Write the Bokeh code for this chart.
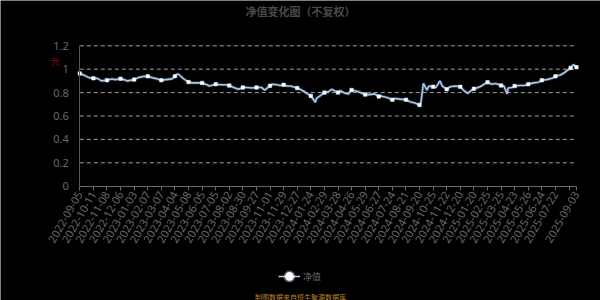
import numpy as np
from datetime import date
from bokeh.plotting import figure
from bokeh.models import FixedTicker, Label, Legend, LegendItem, Range1d, LinearAxis
from bokeh.embed import file_html
from bokeh.resources import INLINE

# ---- data ----
label_dates = ["2022-09-05", "2022-10-11", "2022-11-08", "2022-12-06", "2023-01-03",
               "2023-02-07", "2023-03-07", "2023-04-04", "2023-05-08", "2023-06-05",
               "2023-07-05", "2023-08-02", "2023-08-30", "2023-09-27", "2023-11-01",
               "2023-11-29", "2023-12-27", "2024-01-24", "2024-02-29", "2024-03-28",
               "2024-04-26", "2024-05-29", "2024-06-27", "2024-07-24", "2024-08-21",
               "2024-09-20", "2024-10-25", "2024-11-22", "2024-12-20", "2025-01-20",
               "2025-02-25", "2025-03-25", "2025-04-23", "2025-05-26", "2025-06-24",
               "2025-07-22", "2025-09-03"]
label_pos = list(range(36)) + [36.55]
hidden_ticks = [36]

nav_dates = ["2022-09-05", "2022-09-15", "2022-09-29", "2022-10-11", "2022-10-19",
             "2022-10-28", "2022-11-08", "2022-11-18", "2022-11-25", "2022-12-06",
             "2022-12-13", "2022-12-20", "2023-01-03", "2023-01-13", "2023-01-30",
             "2023-02-07", "2023-02-16", "2023-02-27", "2023-03-07", "2023-03-17",
             "2023-03-29", "2023-04-04", "2023-04-10", "2023-04-14", "2023-04-26",
             "2023-05-08", "2023-05-15", "2023-05-26", "2023-06-05", "2023-06-16",
             "2023-06-21", "2023-07-05", "2023-07-14", "2023-07-25", "2023-08-02",
             "2023-08-11", "2023-08-21", "2023-08-30", "2023-09-08", "2023-09-18",
             "2023-09-27", "2023-10-10", "2023-10-18", "2023-11-01", "2023-11-06",
             "2023-11-15", "2023-11-22", "2023-11-29", "2023-12-06", "2023-12-13",
             "2023-12-27", "2024-01-05", "2024-01-16", "2024-01-24", "2024-01-29",
             "2024-02-05", "2024-02-08", "2024-02-20", "2024-02-29", "2024-03-08",
             "2024-03-15", "2024-03-28", "2024-04-02", "2024-04-12", "2024-04-19",
             "2024-04-26", "2024-05-09", "2024-05-17", "2024-05-29", "2024-06-07",
             "2024-06-18", "2024-06-27", "2024-07-01", "2024-07-05", "2024-07-15",
             "2024-07-24", "2024-07-30", "2024-08-09", "2024-08-21", "2024-08-30",
             "2024-09-10", "2024-09-20", "2024-09-24", "2024-09-26", "2024-09-30",
             "2024-10-09", "2024-10-14", "2024-10-25", "2024-10-31", "2024-11-08",
             "2024-11-13", "2024-11-22", "2024-11-29", "2024-12-10", "2024-12-20",
             "2024-12-27", "2025-01-06", "2025-01-15", "2025-01-20", "2025-01-27",
             "2025-02-05", "2025-02-14", "2025-02-25", "2025-03-06", "2025-03-14",
             "2025-03-25", "2025-03-31", "2025-04-07", "2025-04-09", "2025-04-17",
             "2025-04-23", "2025-05-06", "2025-05-16", "2025-05-26", "2025-06-06",
             "2025-06-17", "2025-06-24", "2025-07-04", "2025-07-15", "2025-07-22",
             "2025-08-01", "2025-08-08", "2025-08-15", "2025-08-22", "2025-08-28",
             "2025-09-03"]
nav_values = [0.964, 0.950, 0.928, 0.922, 0.922,
              0.900, 0.906, 0.917, 0.911, 0.919,
              0.911, 0.900, 0.911, 0.928, 0.939,
              0.939, 0.928, 0.917, 0.906, 0.911,
              0.917, 0.940, 0.958, 0.955, 0.917,
              0.890, 0.883, 0.883, 0.883, 0.867,
              0.856, 0.872, 0.867, 0.867, 0.861,
              0.844, 0.828, 0.844, 0.844, 0.839,
              0.844, 0.844, 0.822, 0.858, 0.872,
              0.867, 0.861, 0.867, 0.856, 0.856,
              0.839, 0.822, 0.794, 0.772, 0.750,
              0.717, 0.750, 0.778, 0.800, 0.806,
              0.828, 0.800, 0.817, 0.794, 0.789,
              0.822, 0.811, 0.800, 0.783, 0.783,
              0.789, 0.767, 0.772, 0.767, 0.756,
              0.739, 0.750, 0.744, 0.739, 0.722,
              0.711, 0.694, 0.722, 0.780, 0.878,
              0.822, 0.856, 0.850, 0.844, 0.900,
              0.856, 0.828, 0.850, 0.856, 0.850,
              0.822, 0.794, 0.822, 0.833, 0.839,
              0.850, 0.867, 0.889, 0.872, 0.878,
              0.861, 0.856, 0.789, 0.839, 0.844,
              0.856, 0.861, 0.861, 0.872, 0.883,
              0.889, 0.906, 0.911, 0.922, 0.939,
              0.950, 0.967, 0.989, 1.011, 1.039,
              1.017]
y_ticks = [0, 0.2, 0.4, 0.6, 0.8, 1.0, 1.2]
y_tick_labels = ["0", "0.2", "0.4", "0.6", "0.8", "1", "1.2"]

# ---- date -> category position ----
def ordinal(s):
    return date.fromisoformat(s).toordinal()

lab_ord = np.array([ordinal(d) for d in label_dates], dtype=float)
xk = np.interp([ordinal(d) for d in nav_dates], lab_ord, label_pos)
yv = np.array(nav_values)

tick_positions = sorted(label_pos + hidden_ticks)
mark_idx = sorted(set(int(np.argmin(np.abs(xk - t))) for t in tick_positions))

# ---- layout: the frame covers the whole canvas; plot area placed by ranges ----
W, H = 600, 300
area_left, area_right, area_top, area_bottom = 79.3, 576.0, 45.3, 185.7
x0, x1 = 0.0, label_pos[-1]
y0, y1 = 0.0, 1.2
xs = (area_right - area_left) / (x1 - x0)
ys = (area_bottom - area_top) / (y1 - y0)
xr = Range1d(x0 - area_left / xs, x1 + (W - area_right) / xs)
yr = Range1d(y0 - (H - area_bottom) / ys, y1 + area_top / ys)

p = figure(width=W, height=H, output_backend="svg", toolbar_location=None,
           x_range=xr, y_range=yr, min_border=0,
           x_axis_location=None, y_axis_location=None)
p.background_fill_color = "black"
p.border_fill_color = "black"
p.outline_line_color = None
p.xgrid.grid_line_color = None
p.ygrid.grid_line_color = None

xaxis = LinearAxis(fixed_location=y0, bounds=(x0, x1))
yaxis = LinearAxis(fixed_location=x0, bounds=(y0, y1))
p.add_layout(xaxis, "below")
p.add_layout(yaxis, "left")

# dashed horizontal grid lines over the plot area
p.segment(x0=[x0] * (len(y_ticks) - 1), x1=[x1] * (len(y_ticks) - 1),
          y0=y_ticks[1:], y1=y_ticks[1:], line_color="#a0a0a0",
          line_dash="4 3", line_width=1)

line_col = "#a9c7ee"
p.line(xk, yv, line_color=line_col, line_width=3.2, line_alpha=0.25)
r_line = p.line(xk, yv, line_color=line_col, line_width=1.6)
p.scatter(xk[mark_idx], yv[mark_idx], marker="square", size=3.5,
          fill_color="white", line_color="#dde9f8", line_width=0.5)

# axes styling
xaxis.ticker = FixedTicker(ticks=tick_positions)
overrides = {}
for pos, d in zip(label_pos, label_dates):
    overrides[pos] = d
for h in hidden_ticks:
    overrides[h] = ""
xaxis.major_label_overrides = overrides
xaxis.major_label_orientation = np.pi / 3
xaxis.major_label_text_font = "Noto Sans"
xaxis.major_label_text_font_size = "11px"
xaxis.major_label_text_color = "#6a6a6a"
xaxis.axis_line_color = "#6a6a6a"
xaxis.major_tick_line_color = "#6a6a6a"
xaxis.major_tick_in = 0
xaxis.major_tick_out = 4
xaxis.minor_tick_line_color = None
xaxis.major_label_standoff = 2

yaxis.ticker = FixedTicker(ticks=y_ticks)
yaxis.major_label_overrides = {t: l for t, l in zip(y_ticks, y_tick_labels)}
yaxis.major_label_text_font = "Noto Sans"
yaxis.major_label_text_font_size = "11px"
yaxis.major_label_text_color = "#6a6a6a"
yaxis.axis_line_color = "#555555"
yaxis.major_tick_line_color = None
yaxis.minor_tick_line_color = None
yaxis.major_label_standoff = 5

# texts (screen coordinates from the canvas bottom-left)
p.add_layout(Label(x=300, y=H - 10, x_units="screen", y_units="screen",
                   text="净值变化图（不复权）", text_font="Noto Sans CJK SC",
                   text_font_size="11px", text_font_style="bold", text_color="#4a4a4a",
                   text_align="center", text_baseline="middle"))
p.add_layout(Label(x=55, y=H - 61, x_units="screen", y_units="screen",
                   text="元", text_font="Noto Sans CJK SC", text_font_size="9px",
                   text_color="#7a0c0c", text_align="center", text_baseline="middle"))
p.add_layout(Label(x=300, y=H - 296, x_units="screen", y_units="screen",
                   text="制图数据来自恒生聚源数据库", text_font="Noto Sans CJK SC",
                   text_font_size="7px", text_color="#b8862e",
                   text_align="center", text_baseline="middle"))

# legend (icon renderers hold no visible point)
dot = p.scatter([np.nan], [np.nan], marker="circle", size=9, fill_color="white",
                line_color="white", line_alpha=0.35, line_width=3)
legend = Legend(items=[LegendItem(label="净值", renderers=[r_line, dot])],
                location=(278, H - 289), orientation="horizontal",
                label_text_font="Noto Sans CJK SC", label_text_font_size="9px",
                label_text_color="#6a6a6a", background_fill_alpha=0,
                border_line_alpha=0, glyph_width=22, glyph_height=26,
                label_standoff=3, padding=0, margin=0)
p.add_layout(legend, "center")

open("out.html", "w").write(file_html(p, INLINE))
